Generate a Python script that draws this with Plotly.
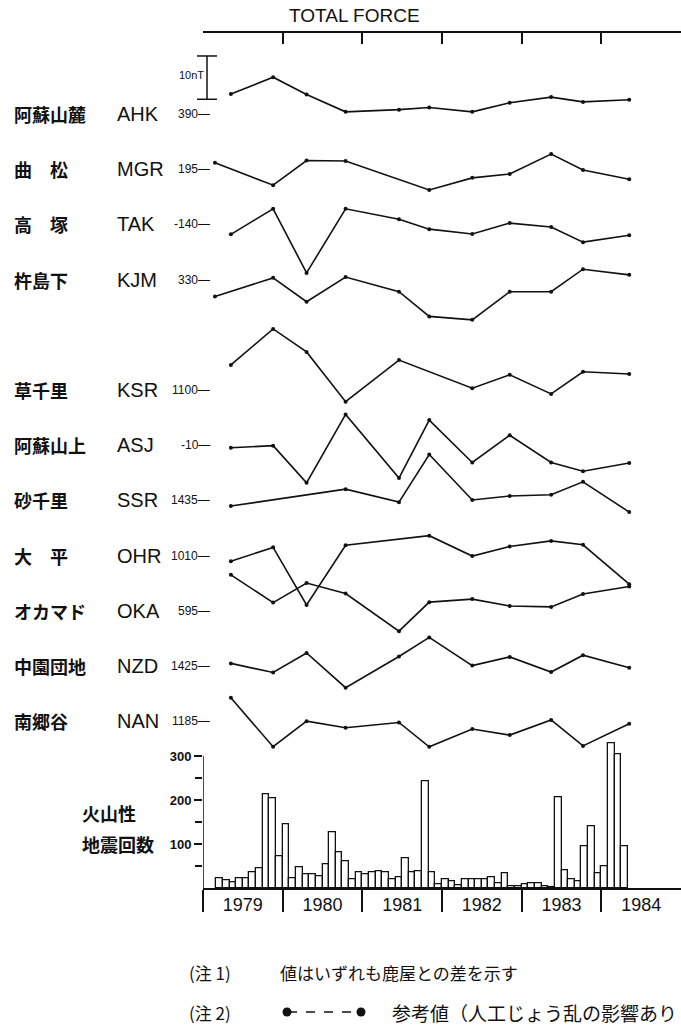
import plotly.graph_objects as go

W, H = 681, 1028

# ---------------------------------------------------------------- data
# Survey epochs (decimal years) shared by the magnetometer stations
EPOCHS = [1979.15, 1979.35, 1979.88, 1980.30, 1980.79, 1981.46,
          1981.84, 1982.38, 1982.85, 1983.37, 1983.77, 1984.35]

STATION_NAMES = ["阿蘇山麓", "曲　松", "高　塚", "杵島下", "草千里", "阿蘇山上",
                 "砂千里", "大　平", "オカマド", "中園団地", "南郷谷"]
STATION_CODES = ["AHK", "MGR", "TAK", "KJM", "KSR", "ASJ",
                 "SSR", "OHR", "OKA", "NZD", "NAN"]
BASE_VALUES = [390, 195, -140, 330, 1100, -10, 1435, 1010, 595, 1425, 1185]

# Total force differences (nT), one value per epoch, None = not surveyed
AHK = [None, 394.6, 398.5, 394.5, 390.5, 391.0, 391.5, 390.5, 392.6, 393.9, 392.8, 393.3]
MGR = [196.5, None, 191.3, 197.0, 196.9, None, 190.2, 193.0, 193.9, 198.5, 194.8, 192.7]
TAK = [None, -142.3, -136.4, -151.2, -136.4, -138.8, -141.1, -142.2, -139.7, -140.6, -144.1, -142.5]
KJM = [326.1, None, 330.4, 324.9, 330.6, 327.2, 321.5, 320.7, 327.2, 327.2, 332.4, 331.1]
KSR = [None, 1105.8, 1114.1, 1108.8, 1097.3, 1106.9, None, 1100.4, 1103.5, 1099.1, 1104.2, 1103.7]
ASJ = [None, -10.6, -10.1, -18.7, -2.9, -17.6, -4.2, -14.0, -7.7, -14.0, -16.0, -14.1]
SSR = [None, 1433.7, None, None, 1437.6, 1434.6, 1445.6, 1435.1, 1436.0, 1436.3, 1439.3, 1432.3]
OHR = [None, 1008.7, 1011.9, 998.6, 1012.4, None, 1014.6, 1009.9, 1012.1, 1013.4, 1012.5, 1003.4]
OKA = [None, 603.3, 596.9, 601.4, 599.0, 590.3, 597.0, 597.7, 596.1, 595.9, 598.9, 600.6]
NZD = [None, 1425.6, 1423.5, 1428.0, 1420.0, 1427.2, 1431.6, 1425.1, 1427.1, 1423.6, 1427.5, 1424.6]
NAN = [None, 1190.4, 1179.1, 1185.0, 1183.5, 1184.7, 1179.1, 1183.2, 1181.8, 1185.3, 1179.3, 1184.4]
SERIES = [AHK, MGR, TAK, KJM, KSR, ASJ, SSR, OHR, OKA, NZD, NAN]

# Monthly counts of volcanic earthquakes
QUAKES_1979 = [23, 18, 13, 23, 22, 36, 46, 214, 204, 73]          # Mar-Dec
QUAKES_1980 = [144, 22, 47, 32, 32, 26, 55, 127, 82, 62, 21, 37]
QUAKES_1981 = [32, 35, 38, 35, 19, 25, 68, 35, 38, 243, 36, 8]
QUAKES_1982 = [21, 15, 7, 20, 21, 21, 19, 25, 11, 34, 5, 4]
QUAKES_1983 = [9, 10, 11, 5, 2, 207, 40, 21, 15, 96, 141, 34]
QUAKES_1984 = [50, 330, 305, 96]                                   # Jan-Apr
QUAKE_YEARS = [(1979, 3, QUAKES_1979), (1980, 1, QUAKES_1980), (1981, 1, QUAKES_1981),
               (1982, 1, QUAKES_1982), (1983, 1, QUAKES_1983), (1984, 1, QUAKES_1984)]

YEARS = [1979, 1980, 1981, 1982, 1983, 1984]
BAR_TICKS = [100, 200, 300]
BAR_MINOR_TICKS = [50, 150, 250]

# ---------------------------------------------------------------- layout constants
X0_PX = 203            # left edge of the time axis
TOP_AXIS_PX = 33       # TOTAL FORCE axis line
LINES_BOTTOM_PX = 770
ROW_SLOTS = [0, 1, 2, 3, 5, 6, 7, 8, 9, 10, 11]
ROW0_PX, ROW_STEP_PX = 114.0, 55.2
PX_PER_NT = 4.33
BAR_BASE_PX = 888
PX_PER_COUNT = 0.44
BAR_RANGE_MAX = 345

INK = "#111111"
LATIN = "Liberation Sans"
CJK = "Noto Sans CJK JP"


def py(px):
    return 1 - px / H


def pxx(px):
    return px / W


def label(x_px, y, yref, text, font, xanchor="left"):
    return dict(x=pxx(x_px), xref="paper", y=y, yref=yref, text=text,
                showarrow=False, xanchor=xanchor, yanchor="middle", font=font)


fig = go.Figure()
layout = {}
annotations = []
shapes = []

x_domain = [pxx(X0_PX), 1.0]
line_domain = [py(LINES_BOTTOM_PX), py(TOP_AXIS_PX)]

name_font = dict(family=CJK, size=18, color=INK, weight="bold")
code_font = dict(family=LATIN, size=20, color=INK)
base_font = dict(family=LATIN, size=12, color=INK)

# ---------------------------------------------------------------- station curves
for i, (name, code, base, vals, slot) in enumerate(
        zip(STATION_NAMES, STATION_CODES, BASE_VALUES, SERIES, ROW_SLOTS)):
    yname = "y" if i == 0 else f"y{i + 1}"
    key = "yaxis" if i == 0 else f"yaxis{i + 1}"
    row_px = ROW0_PX + slot * ROW_STEP_PX
    lo = base - (LINES_BOTTOM_PX - row_px) / PX_PER_NT
    hi = base + (row_px - TOP_AXIS_PX) / PX_PER_NT
    ax = dict(domain=line_domain, range=[lo, hi], showgrid=False, zeroline=False,
              showticklabels=False, showline=False, ticks="", fixedrange=True,
              anchor="x")
    if i > 0:
        ax["overlaying"] = "y"
    layout[key] = ax

    fig.add_trace(go.Scatter(
        x=EPOCHS, y=vals, xaxis="x", yaxis=yname, mode="lines+markers",
        connectgaps=True, line=dict(color=INK, width=1.6),
        marker=dict(color=INK, size=4), showlegend=False, name=code))

    annotations.append(label(12, base, yname, name, name_font))
    annotations.append(label(115, base, yname, code, code_font))
    annotations.append(label(212, base, yname, f"{base}—", base_font, xanchor="right"))

# 10 nT scale bar beside AHK
scale_lo = BASE_VALUES[0] + 3.4
scale_hi = scale_lo + 10
shapes.append(dict(type="line", xref="paper", yref="y", x0=pxx(207), x1=pxx(207),
                   y0=scale_lo, y1=scale_hi, line=dict(color=INK, width=1.5)))
for yv in (scale_lo, scale_hi):
    shapes.append(dict(type="line", xref="paper", yref="y", x0=pxx(197), x1=pxx(217),
                       y0=yv, y1=yv, line=dict(color=INK, width=1.5)))
annotations.append(label(206, (scale_lo + scale_hi) / 2 + 0.5, "y", "10nT",
                         dict(family=LATIN, size=11, color=INK), xanchor="right"))

layout["xaxis"] = dict(domain=x_domain, range=[1979, 1985], side="top", anchor="y",
                       showline=True, linecolor=INK, linewidth=1.5,
                       tickmode="array", tickvals=YEARS + [1985], ticks="inside",
                       ticklen=11, tickwidth=1.5, tickcolor=INK,
                       showticklabels=False, showgrid=False, zeroline=False)
annotations.append(dict(x=pxx(354), xref="paper", y=py(16), yref="paper",
                        text="TOTAL FORCE", showarrow=False,
                        xanchor="center", yanchor="middle",
                        font=dict(family=LATIN, size=19, color=INK)))

# ---------------------------------------------------------------- earthquake counts
bar_x, bar_y = [], []
for year, first_month, counts in QUAKE_YEARS:
    for k, c in enumerate(counts):
        bar_x.append(year + (first_month - 1 + k + 0.5) / 12)
        bar_y.append(c)

fig.add_trace(go.Bar(x=bar_x, y=bar_y, width=1 / 12, xaxis="x2", yaxis="y12",
                     marker=dict(color="white", line=dict(color=INK, width=1.3)),
                     showlegend=False, name="火山性地震回数"))

bar_domain = [py(BAR_BASE_PX), py(BAR_BASE_PX - BAR_RANGE_MAX * PX_PER_COUNT)]
layout["yaxis12"] = dict(domain=bar_domain, range=[0, BAR_RANGE_MAX], anchor="x2",
                         tickmode="array", tickvals=BAR_TICKS,
                         ticktext=[str(v) for v in BAR_TICKS],
                         ticks="outside", ticklen=8, tickwidth=1.5, tickcolor=INK,
                         minor=dict(tickmode="array", tickvals=BAR_MINOR_TICKS,
                                    ticks="outside", ticklen=7, tickwidth=1.5,
                                    tickcolor=INK, showgrid=False),
                         tickfont=dict(family=LATIN, size=13, color=INK, weight="bold"),
                         showgrid=False, zeroline=False, showline=False)
shapes.append(dict(type="line", xref="x2", yref="y12", x0=YEARS[0], x1=YEARS[0],
                   y0=0, y1=max(BAR_TICKS), line=dict(color=INK, width=1.5)))

layout["xaxis2"] = dict(domain=x_domain, range=[1979, 1985], anchor="y12",
                        showline=True, linecolor=INK, linewidth=1.5,
                        tickmode="array", tickvals=[y + 0.5 for y in YEARS],
                        ticktext=[str(y) for y in YEARS],
                        ticks="outside", ticklen=0, tickcolor="rgba(0,0,0,0)",
                        minor=dict(tickmode="array", tickvals=YEARS, ticks="outside",
                                   ticklen=22, tickwidth=1.5, tickcolor=INK,
                                   showgrid=False),
                        tickfont=dict(family=LATIN, size=18, color=INK),
                        showgrid=False, zeroline=False)

annotations.append(label(80, py(813), "paper", "火山性", name_font))
annotations.append(label(80, py(844), "paper", "地震回数", name_font))

# ---------------------------------------------------------------- notes
annotations += [
    label(187, py(972), "paper", "(注 1)", dict(family=CJK, size=17, color=INK)),
    label(278, py(972), "paper", "値はいずれも鹿屋との差を示す",
          dict(family=CJK, size=17, color=INK)),
    label(187, py(1012), "paper", "(注 2)", dict(family=CJK, size=17, color=INK)),
    label(390, py(1012), "paper", "参考値（人工じょう乱の影響あり",
          dict(family=CJK, size=19, color=INK)),
]
shapes.append(dict(type="line", xref="paper", yref="paper", x0=pxx(288), x1=pxx(360),
                   y0=py(1012), y1=py(1012), line=dict(color=INK, width=1.5, dash="dash")))
for cx in (287, 361):
    shapes.append(dict(type="circle", xref="paper", yref="paper",
                       x0=pxx(cx - 4.5), x1=pxx(cx + 4.5),
                       y0=py(1012 + 4.5), y1=py(1012 - 4.5),
                       fillcolor=INK, line=dict(color=INK, width=0)))

layout.update(dict(width=W, height=H, margin=dict(l=0, r=0, t=0, b=0),
                   paper_bgcolor="white", plot_bgcolor="rgba(0,0,0,0)",
                   showlegend=False, bargap=0,
                   annotations=annotations, shapes=shapes))
fig.update_layout(**layout)

fig.write_html("out.html")
